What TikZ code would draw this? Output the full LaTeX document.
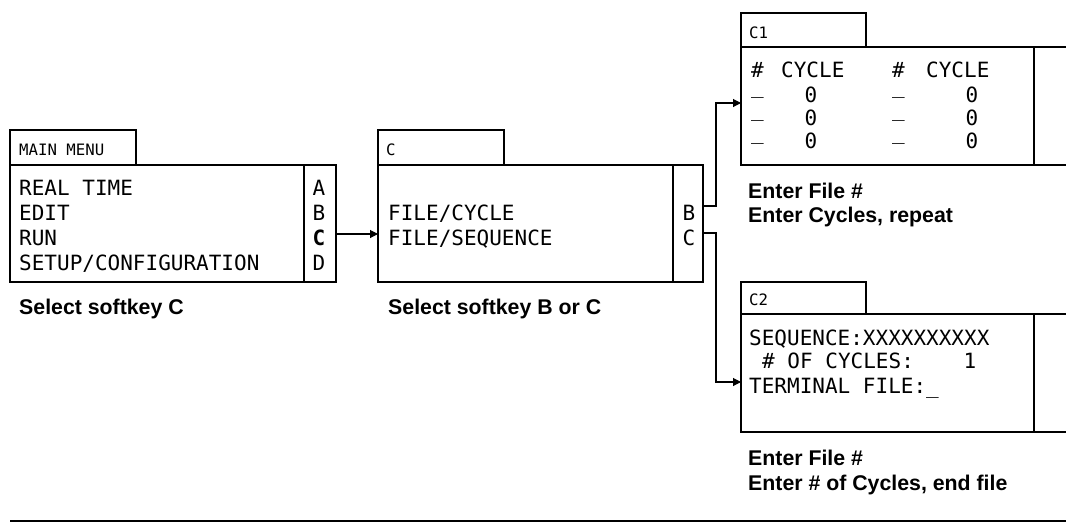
\documentclass[tikz,border=0pt]{standalone}
\usepackage{fontspec}
\setmainfont{Liberation Sans}
\newfontfamily\lcd{DejaVu Sans Mono}
\usetikzlibrary{arrows.meta}
\begin{document}
\begin{tikzpicture}[x=1pt,y=-1pt,
  frame/.style={draw, line width=1.2pt, inner sep=0pt, outer sep=0pt},
  rule/.style={line width=1.2pt},
  conn/.style={line width=1.1pt, -{Triangle[length=8pt,width=8pt]}},
  mono/.style={font=\lcd\fontsize{21}{24}\selectfont, inner sep=0pt, anchor=base west},
  key/.style={font=\lcd\fontsize{21}{24}\selectfont, inner sep=0pt, anchor=base},
  tabl/.style={font=\lcd\fontsize{15.7}{18}\selectfont, inner sep=0pt, anchor=base west},
  note/.style={font=\fontsize{21.3}{24}\selectfont\bfseries, inner sep=0pt, anchor=base west}]
\useasboundingbox (0,0) rectangle (1066,523);
\clip (0,0) rectangle (1066,523);

% ---------- MAIN MENU ----------
\node[frame, minimum width=126pt, minimum height=35pt] (maintab) at (73,147.5) {};
\node[frame, minimum width=326pt, minimum height=117pt] (mainbox) at (173,223.5) {};
\draw[rule] ([xshift=-32pt]mainbox.north east) -- ([xshift=-32pt]mainbox.south east);
\node[tabl] (mt) at (19,155) {MAIN MENU};
\node[mono] (m1) at (19,195) {REAL TIME};
\node[mono] (m2) at (19,220) {EDIT};
\node[mono] (m3) at (19,245) {RUN};
\node[mono] (m4) at (19,270) {SETUP/CONFIGURATION};
\node[key] (ka) at (319,195) {A};
\node[key] (kb) at (319,220) {B};
\node[key] (kc) at (319,245) {\bfseries C};
\node[key] (kd) at (319,270) {D};
\node[note] (n1) at (19,314) {Select softkey C};

% ---------- C ----------
\node[frame, minimum width=126pt, minimum height=35pt] (ctab) at (441,147.5) {};
\node[frame, minimum width=325pt, minimum height=117pt] (cbox) at (540.5,223.5) {};
\draw[rule] ([xshift=-30pt]cbox.north east) -- ([xshift=-30pt]cbox.south east);
\node[tabl] (ct) at (386,155) {C};
\node[mono] (c1t) at (388,220) {FILE/CYCLE};
\node[mono] (c2t) at (388,245) {FILE/SEQUENCE};
\node[key] (cb) at (689,220) {B};
\node[key] (cc) at (689,245) {C};
\node[note] (n2) at (388,314) {Select softkey B or C};

% ---------- C1 ----------
\node[frame, minimum width=125pt, minimum height=34pt] (c1tab) at (803.5,30) {};
\node[frame, minimum width=349pt, minimum height=118pt] (c1box) at (915.5,106) {};
\draw[rule] (1034,0 |- c1box.north) -- (1034,0 |- c1box.south);
\node[tabl] (c1l) at (749,38) {C1};
\node[mono] (h1) at (751,77) {\#};
\node[mono] (h2) at (781,77) {CYCLE};
\node[mono] (h3) at (892,77) {\#};
\node[mono] (h4) at (926,77) {CYCLE};
\node[mono] (u1) at (751,93.5) {\_};
\node[mono] (u2) at (751,116.5) {\_};
\node[mono] (u3) at (751,139.5) {\_};
\node[mono] (u4) at (892,93.5) {\_};
\node[mono] (u5) at (892,116.5) {\_};
\node[mono] (u6) at (892,139.5) {\_};
\node[key] (z1) at (811,102) {0};
\node[key] (z2) at (811,125) {0};
\node[key] (z3) at (811,148) {0};
\node[key] (z4) at (972,102) {0};
\node[key] (z5) at (972,125) {0};
\node[key] (z6) at (972,148) {0};
\node[note] (n3) at (748,198) {Enter File \#};
\node[note] (n4) at (748,222) {Enter Cycles, repeat};

% ---------- C2 ----------
\node[frame, minimum width=125pt, minimum height=32pt] (c2tab) at (803.5,298) {};
\node[frame, minimum width=349pt, minimum height=118pt] (c2box) at (915.5,373) {};
\draw[rule] (1034,0 |- c2box.north) -- (1034,0 |- c2box.south);
\node[tabl] (c2l) at (749,305) {C2};
\node[mono] (s1) at (749,345) {SEQUENCE:XXXXXXXXXX};
\node[mono] (s2) at (762,368) {\# OF CYCLES:};
\node[key] (s3) at (970,368) {1};
\node[mono] (s4) at (749,393) {TERMINAL FILE:\_};
\node[note] (n5) at (748,465) {Enter File \#};
\node[note] (n6) at (748,490) {Enter \# of Cycles, end file};

% ---------- connectors ----------
\coordinate (yrun) at (0,234);
\coordinate (yb) at (0,206);
\coordinate (yc) at (0,233);
\coordinate (jx) at (716,0);
\coordinate (yin1) at (0,103);
\coordinate (yin2) at (0,382);
\draw[conn] (mainbox.east |- yrun) -- (cbox.west |- yrun);
\draw[conn] (cbox.east |- yb) -| (jx |- yin1) -- (c1box.west |- yin1);
\draw[conn] (cbox.east |- yc) -| (jx |- yin2) -- (c2box.west |- yin2);

% ---------- bottom rule ----------
\coordinate (bl) at (10,521);
\coordinate (br) at (1080,521);
\draw[rule] (bl) -- (br);
\end{tikzpicture}
\end{document}
